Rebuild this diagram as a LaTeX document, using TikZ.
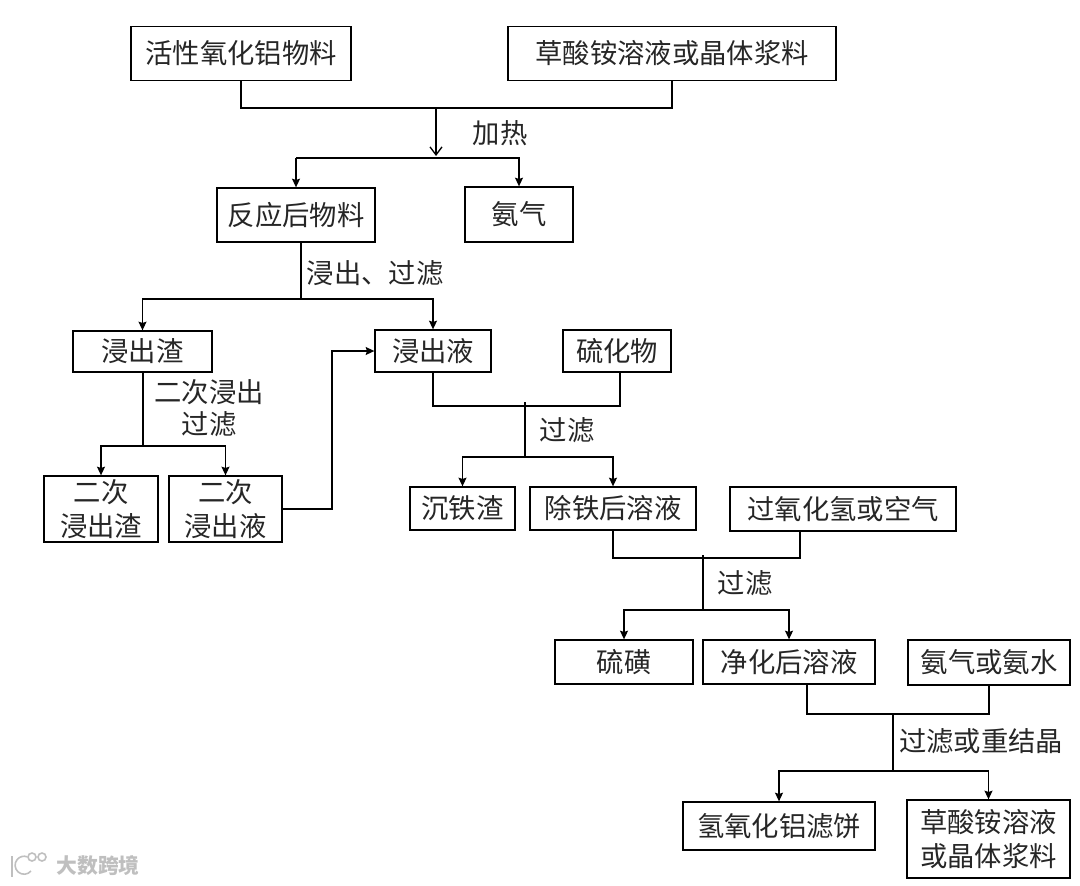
\documentclass[tikz,border=0pt]{standalone}
\usepackage{fontspec}
\setmainfont{Noto Sans CJK SC}
\usetikzlibrary{arrows.meta}

\begin{document}
\begin{tikzpicture}[x=0.75pt,y=-0.75pt,>={Stealth[length=6.5pt,width=6pt,inset=1pt]},line width=1pt,
  box size/.style 2 args={minimum width=#1*0.75pt,minimum height=#2*0.75pt},
  main node/.style={rectangle,fill=white,draw,inner sep=0pt,align=center,
    text=black!85,font=\fontsize{20.5}{25.5}\selectfont},
  label node/.style={inner sep=0pt,align=center,text=black!85,
    font=\fontsize{20.5}{24}\selectfont},
  mark node/.style={inner sep=0pt,text=black!25,font=\fontsize{15.6}{16}\selectfont\bfseries},
  mark line/.style={draw=black!25,line width=1.2pt}]

  \useasboundingbox (0,0) rectangle (1080,885);

  \node[main node,box size={220}{54}] (huoxing) at (241,53.5) {活性氧化铝物料};
  \node[main node,box size={328}{54}] (caosuan) at (672,53.5) {草酸铵溶液或晶体浆料};
  \node[main node,box size={158}{54}] (fanying) at (296,215) {反应后物料};
  \node[main node,box size={108}{55}] (anqi) at (519,214.5) {氨气};
  \node[main node,box size={139}{41}] (jinzha) at (142.5,351.5) {浸出渣};
  \node[main node,box size={116}{42}] (jinye) at (433,351) {浸出液};
  \node[main node,box size={108}{42}] (liuhua) at (617,351) {硫化物};
  \node[main node,box size={114}{66}] (ercizha) at (101,509) {二次\\浸出渣};
  \node[main node,box size={113}{66}] (erciye) at (225.5,509) {二次\\浸出液};
  \node[main node,box size={105}{43}] (chentie) at (462.5,508.5) {沉铁渣};
  \node[main node,box size={166}{43}] (chutie) at (613,508.5) {除铁后溶液};
  \node[main node,box size={226}{44}] (guoyang) at (843,509) {过氧化氢或空气};
  \node[main node,box size={138}{44}] (liuhuang) at (624,662) {硫磺};
  \node[main node,box size={172}{44}] (jinghua) at (789,662) {净化后溶液};
  \node[main node,box size={162}{45}] (anshui) at (989,662.5) {氨气或氨水};
  \node[main node,box size={192}{48}] (lvbing) at (779,826) {氢氧化铝滤饼};
  \node[main node,box size={163}{78}] (jingti) at (988.5,839) {草酸铵溶液\\或晶体浆料};

  \node[label node] (jiare) at (500,133) {加热};
  \node[label node] (guolv1) at (375,273) {浸出、过滤};
  \node[label node] (guolv2) at (209,408) {二次浸出\\过滤};
  \node[label node] (guolv3) at (567,430) {过滤};
  \node[label node] (guolv4) at (745,583) {过滤};
  \node[label node] (guolv5) at (981,741) {过滤或重结晶};

  % junctions
  \coordinate (he1) at (436,108);
  \coordinate (fen1) at (436,158);
  \coordinate (fen2) at (301,299);
  \coordinate (fen3) at (143,446);
  \coordinate (zhe1) at (332,509);
  \coordinate (he2) at (525,406);
  \coordinate (fen4) at (525,457);
  \coordinate (he3) at (703,558);
  \coordinate (fen5) at (703,610);
  \coordinate (he4) at (893,714);
  \coordinate (fen6) at (893,771);
  \coordinate (ru1) at (800,531);

  % merging lines
  \draw (huoxing.south) |- (he1) -| (caosuan.south);
  \draw (jinye.south) |- (he2) -| ([xshift=2.25pt]liuhua.south);
  \draw (chutie.south) |- (he3) -| (ru1);
  \draw ([xshift=13.5pt]jinghua.south) |- (he4) -| (anshui.south);

  \draw[-{Straight Barb[length=6pt,width=9pt]}] (he1) -- ([yshift=1.5pt]fen1);
  \draw (fanying.south -| fen2) -- (fen2);
  \draw (jinzha.south -| fen3) -- (fen3);
  \draw (he2) ++(0,-4) -- (fen4);
  \draw (he3) ++(0,-3) -- (fen5);
  \draw (he4) -- (fen6);

  % splitting lines
  \draw[->] (fen1 -| fanying.north) -- (fen1) -- (fen1 -| anqi.north) -- (anqi.north);
  \draw[->] (fen1 -| fanying.north) -- (fanying.north);
  \draw[->] (fen2) -| (jinzha.north);
  \draw[->] (fen2) -| (jinye.north);
  \draw[->] (fen3) -| (ercizha.north);
  \draw[->] (fen3) -| (erciye.north);
  \draw[->] (fen4) -| (chentie.north);
  \draw[->] (fen4) -| (chutie.north);
  \draw[->] (fen5) -| (liuhuang.north);
  \draw[->] (fen5) -| (jinghua.north);
  \draw[->] (fen6) -| (lvbing.north);
  \draw[->] (fen6) -| (jingti.north);

  \draw[->] (erciye.east) -- (zhe1) |- (jinye.west);

  % watermark
  \node[mark node] (shuiyin) at (98,866) {大数跨境};
  \draw[mark line] (12,856) -- (12,877);
  \draw[mark line] (31,871) arc (40:290:9);
  \node[mark line,circle,minimum size=6pt,inner sep=0pt] (quan1) at (32,857) {};
  \node[mark line,circle,minimum size=6pt,inner sep=0pt] (quan2) at (42,857) {};
\end{tikzpicture}
\end{document}
